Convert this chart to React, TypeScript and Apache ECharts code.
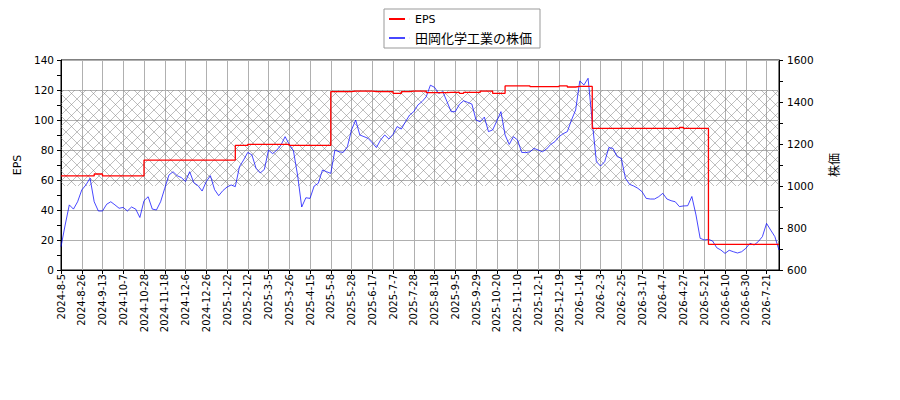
import { useEffect, useRef } from 'react';
import * as echarts from 'echarts';

// one label every 5 points (each point ~ 3 trading days)
const tickLabels = [
  '2024-8-5', '2024-8-26', '2024-9-13', '2024-10-7', '2024-10-28', '2024-11-18', '2024-12-6',
  '2024-12-26', '2025-1-22', '2025-2-12', '2025-3-5', '2025-3-26', '2025-4-15', '2025-5-8',
  '2025-5-28', '2025-6-17', '2025-7-7', '2025-7-28', '2025-8-18', '2025-9-5', '2025-9-29',
  '2025-10-20', '2025-11-10', '2025-12-1', '2025-12-19', '2026-1-14', '2026-2-3', '2026-2-25',
  '2026-3-17', '2026-4-7', '2026-4-27', '2026-5-21', '2026-6-10', '2026-6-30', '2026-7-21',
];

const price = [
  711, 814, 910, 890, 925, 981, 1005, 1037, 925, 881,
  881, 913, 925, 910, 894, 898, 881, 900, 890, 850,
  930, 949, 890, 886, 925, 989, 1052, 1068, 1049, 1040,
  1021, 1068, 1016, 1002, 976, 1021, 1049, 983, 954, 978,
  995, 1005, 997, 1092, 1124, 1160, 1148, 1084, 1062, 1079,
  1171, 1154, 1171, 1195, 1235, 1198, 1168, 1052, 900, 944,
  941, 1000, 1013, 1076, 1068, 1060, 1171, 1163, 1160, 1187,
  1267, 1314, 1243, 1235, 1227, 1206, 1183, 1219, 1243, 1224,
  1246, 1283, 1271, 1306, 1338, 1354, 1386, 1402, 1425, 1480,
  1470, 1441, 1449, 1402, 1354, 1354, 1389, 1406, 1398, 1390,
  1314, 1306, 1328, 1259, 1267, 1309, 1354, 1243, 1198, 1235,
  1219, 1160, 1159, 1163, 1179, 1171, 1163, 1176, 1198, 1211,
  1235, 1249, 1259, 1314, 1362, 1500, 1481, 1513, 1306, 1116,
  1095, 1116, 1183, 1179, 1140, 1132, 1037, 1008, 1000, 989,
  973, 941, 938, 938, 949, 965, 938, 930, 925, 902,
  905, 906, 950, 862, 751, 743, 746, 738, 706, 695,
  679, 694, 687, 681, 687, 703, 727, 719, 735, 759,
  822, 790, 759, 695,
];

const eps = [
  62.7, 62.7, 62.7, 62.7, 62.7, 62.7, 62.7, 62.7, 64, 64,
  62.7, 62.7, 62.7, 62.7, 62.7, 62.7, 62.7, 62.7, 62.7, 62.7,
  73.3, 73.3, 73.3, 73.3, 73.3, 73.3, 73.3, 73.3, 73.3, 73.3,
  73.3, 73.3, 73.3, 73.3, 73.3, 73.3, 73.3, 73.3, 73.3, 73.3,
  73.3, 73.3, 83.1, 83.1, 83.1, 83.8, 83.8, 83.8, 83.8, 83.8,
  83.8, 83.8, 83.8, 83.8, 83.8, 83.1, 83.1, 83.1, 83.1, 83.1,
  83.1, 83.1, 83.1, 83.1, 83.1, 118.9, 118.9, 118.9, 118.9, 118.9,
  119.3, 119.3, 119.3, 119.3, 119.3, 118.9, 118.9, 118.9, 118.9, 118.9,
  117.8, 117.8, 118.9, 118.9, 119.3, 119.3, 119.3, 119.3, 118.2, 118.2,
  118.2, 118.2, 118.2, 118.4, 118.4, 118.4, 117.8, 118.4, 118.4, 118.4,
  118.4, 119.3, 119.3, 119.3, 117.8, 117.8, 117.8, 122.7, 122.7, 122.7,
  122.7, 122.7, 122.7, 122.2, 122.2, 122.2, 122.2, 122.2, 122.2, 122.2,
  122.7, 122.7, 122.0, 122.0, 122.4, 122.4, 122.4, 122.4, 94.4, 94.4,
  94.4, 94.4, 94.4, 94.4, 94.4, 94.4, 94.4, 94.4, 94.4, 94.4,
  94.4, 94.4, 94.4, 94.4, 94.4, 94.4, 94.4, 94.4, 94.4, 95,
  94.4, 94.4, 94.4, 94.4, 94.4, 94.4, 17.1, 17.1, 17.1, 17.1,
  17.1, 17.1, 17.1, 17.1, 17.1, 17.1, 17.1, 17.1, 17.1, 17.1,
  17.1, 17.1, 17.1, 17.1,
];

// hatched band, in EPS units
const bandLow = 56;
const bandHigh = 120;

const font = "'DejaVu Sans', 'Noto Sans CJK JP', sans-serif";

function hatchTile() {
  const s = 11;
  const c = document.createElement('canvas');
  c.width = s;
  c.height = s;
  const ctx = c.getContext('2d')!;
  ctx.strokeStyle = 'rgba(128,128,128,0.5)';
  ctx.lineWidth = 1;
  ctx.beginPath();
  ctx.moveTo(-1, -1); ctx.lineTo(s + 1, s + 1);
  ctx.moveTo(-1, s + 1); ctx.lineTo(s + 1, -1);
  ctx.moveTo(s - 1, -1); ctx.lineTo(s + 1, 1);
  ctx.moveTo(-1, s - 1); ctx.lineTo(1, s + 1);
  ctx.moveTo(-1, 1); ctx.lineTo(1, -1);
  ctx.moveTo(s - 1, s + 1); ctx.lineTo(s + 1, s - 1);
  ctx.stroke();
  return c.toDataURL();
}

export default function App() {
  const chartRef = useRef<HTMLDivElement>(null);

  useEffect(() => {
    if (!chartRef.current) return;
    const chart = echarts.init(chartRef.current, null, { renderer: 'svg' });

    const categories = price.map((_, i) => (i % 5 === 0 ? tickLabels[i / 5] : `d${i}`));

    const option: echarts.EChartsOption = {
      animation: false,
      textStyle: { fontFamily: font },
      legend: {
        orient: 'vertical',
        left: 384,
        top: 9,
        padding: [3, 8, 3, 5],
        itemGap: 5,
        itemWidth: 21,
        itemHeight: 2,
        icon: 'path://M0,0h16v2h-16zM20.9,0h0.1v2h-0.1z',
        itemStyle: { borderWidth: 0 },
        borderColor: '#999',
        borderWidth: 1,
        borderRadius: 0,
        textStyle: { color: '#000', lineHeight: 14, fontFamily: font },
        data: [
          { name: 'EPS', textStyle: { fontSize: 11 } },
          { name: '田岡化学工業の株価', textStyle: { fontSize: 13 } },
        ],
      },
      grid: {
        left: 61,
        right: 121,
        top: 60,
        bottom: 130,
        show: true,
        borderColor: '#000',
        borderWidth: 1,
      },
      xAxis: {
        type: 'category',
        data: categories,
        boundaryGap: false,
        axisLine: { lineStyle: { color: '#000', width: 1 } },
        axisTick: { interval: 4, length: 4, lineStyle: { color: '#000' } },
        axisLabel: { interval: 4, rotate: 90, fontSize: 10, color: '#000', margin: 4, fontFamily: font },
        splitLine: { show: true, interval: 4, lineStyle: { color: '#b0b0b0', width: 1 } },
      },
      yAxis: [
        {
          type: 'value',
          min: 0,
          max: 140,
          interval: 20,
          name: 'EPS',
          nameLocation: 'middle',
          nameRotate: 90,
          nameGap: 36,
          nameTextStyle: { fontSize: 11, color: '#000', fontFamily: font },
          axisLine: { show: true, lineStyle: { color: '#000' } },
          axisTick: { show: true, length: 4, lineStyle: { color: '#000' } },
          minorTick: { show: true, splitNumber: 2, length: 4, lineStyle: { color: '#000' } },
          axisLabel: { fontSize: 10.5, color: '#000', margin: 7, fontFamily: font },
          splitLine: { show: true, lineStyle: { color: '#b0b0b0', width: 1 } },
        },
        {
          type: 'value',
          position: 'right',
          min: 600,
          max: 1600,
          interval: 200,
          name: '株価',
          nameLocation: 'middle',
          nameRotate: 90,
          nameGap: 50,
          nameTextStyle: { fontSize: 12, color: '#000', fontFamily: font },
          axisLine: { show: true, lineStyle: { color: '#000' } },
          axisTick: { show: true, length: 4, lineStyle: { color: '#000' } },
          minorTick: { show: true, splitNumber: 2, length: 4, lineStyle: { color: '#000' } },
          axisLabel: {
            fontSize: 10.5,
            color: '#000',
            margin: 8,
            fontFamily: font,
            formatter: (v: number) => String(v),
          },
          splitLine: { show: false },
        },
      ],
      series: [
        {
          name: '田岡化学工業の株価',
          type: 'line',
          yAxisIndex: 1,
          data: price,
          symbol: 'none',
          showSymbol: false,
          z: 2,
          lineStyle: { color: 'rgba(0,0,255,0.72)', width: 1 },
          itemStyle: { color: 'rgba(0,0,255,0.72)' },
        },
        {
          name: 'EPS',
          type: 'line',
          yAxisIndex: 0,
          data: eps,
          step: 'end',
          symbol: 'none',
          showSymbol: false,
          z: 3,
          lineStyle: { color: '#ff0000', width: 1.3 },
          itemStyle: { color: '#ff0000' },
          markArea: {
            silent: true,
            z: 1,
            itemStyle: {
              color: { image: hatchTile(), repeat: 'repeat', imageWidth: 11, imageHeight: 11 } as any,
            },
            data: [[{ yAxis: bandLow }, { yAxis: bandHigh }]],
          },
        },
      ],
    };

    chart.setOption(option);

    return () => {
      chart.dispose();
    };
  }, []);

  return (
    <div
      ref={chartRef}
      style={{ position: 'fixed', left: 0, top: 0, width: 900, height: 400, background: '#fff' }}
    />
  );
}
